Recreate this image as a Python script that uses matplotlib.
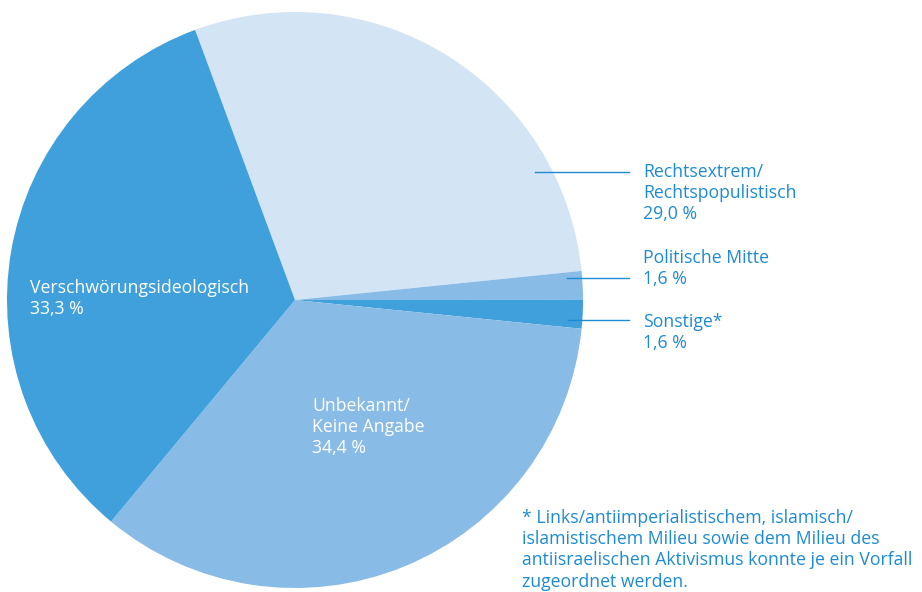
import numpy as np
import matplotlib.pyplot as plt

plt.rcParams['font.family'] = ['Open Sans', 'DejaVu Sans']

# data
categories = ['Rechtsextrem/\nRechtspopulistisch', 'Politische Mitte', 'Sonstige*',
              'Unbekannt/\nKeine Angabe', 'Verschwörungsideologisch']
values = [29.0, 1.6, 1.6, 34.4, 33.3]
value_labels = ['29,0 %', '1,6 %', '1,6 %', '34,4 %', '33,3 %']
colors = ['#d3e4f5', '#88bbe6', '#3fa0db', '#88bbe6', '#3fa0db']

text_blue = '#1d8bd2'
footnote = ('* Links/antiimperialistischem, islamisch/\n'
            'islamistischem Milieu sowie dem Milieu des\n'
            'antiisraelischen Aktivismus konnte je ein Vorfall\n'
            'zugeordnet werden.')

W, H = 922, 592
fig = plt.figure(figsize=(W / 100, H / 100), dpi=100)
ax = fig.add_axes([0, 0, 1, 1])

cx, cy, r = 295, H - 300, 288
ax.pie(values, colors=colors, startangle=110.3, counterclock=False,
       center=(cx, cy), radius=r, wedgeprops=dict(linewidth=0), frame=True)
ax.set_xlim(0, W)
ax.set_ylim(0, H)
ax.set_aspect('equal')
ax.axis('off')

fs = 12.7
ls = 1.23
# outside labels with leader lines (y in pixels from top)
outside = [(0, 163, 172, 535), (1, 249, 278, 567), (2, 313, 320, 568)]
for i, ty, ly, lx in outside:
    ax.plot([lx, 629], [H - ly, H - ly], color=text_blue, lw=1)
    ax.text(643, H - ty, categories[i] + '\n' + value_labels[i],
            color=text_blue, fontsize=fs, va='top', ha='left', linespacing=ls)

# inside labels
ax.text(312, H - 397, categories[3] + '\n' + value_labels[3], color='white',
        fontsize=fs, va='top', ha='left', linespacing=ls)
ax.text(30, H - 279, categories[4] + '\n' + value_labels[4], color='white',
        fontsize=fs, va='top', ha='left', linespacing=ls)

# footnote, kept just inside the bottom edge
ax.text(522, H - 509, footnote, color=text_blue, fontsize=fs, va='top',
        ha='left', linespacing=ls)

fig.savefig('out.png', dpi=100)
